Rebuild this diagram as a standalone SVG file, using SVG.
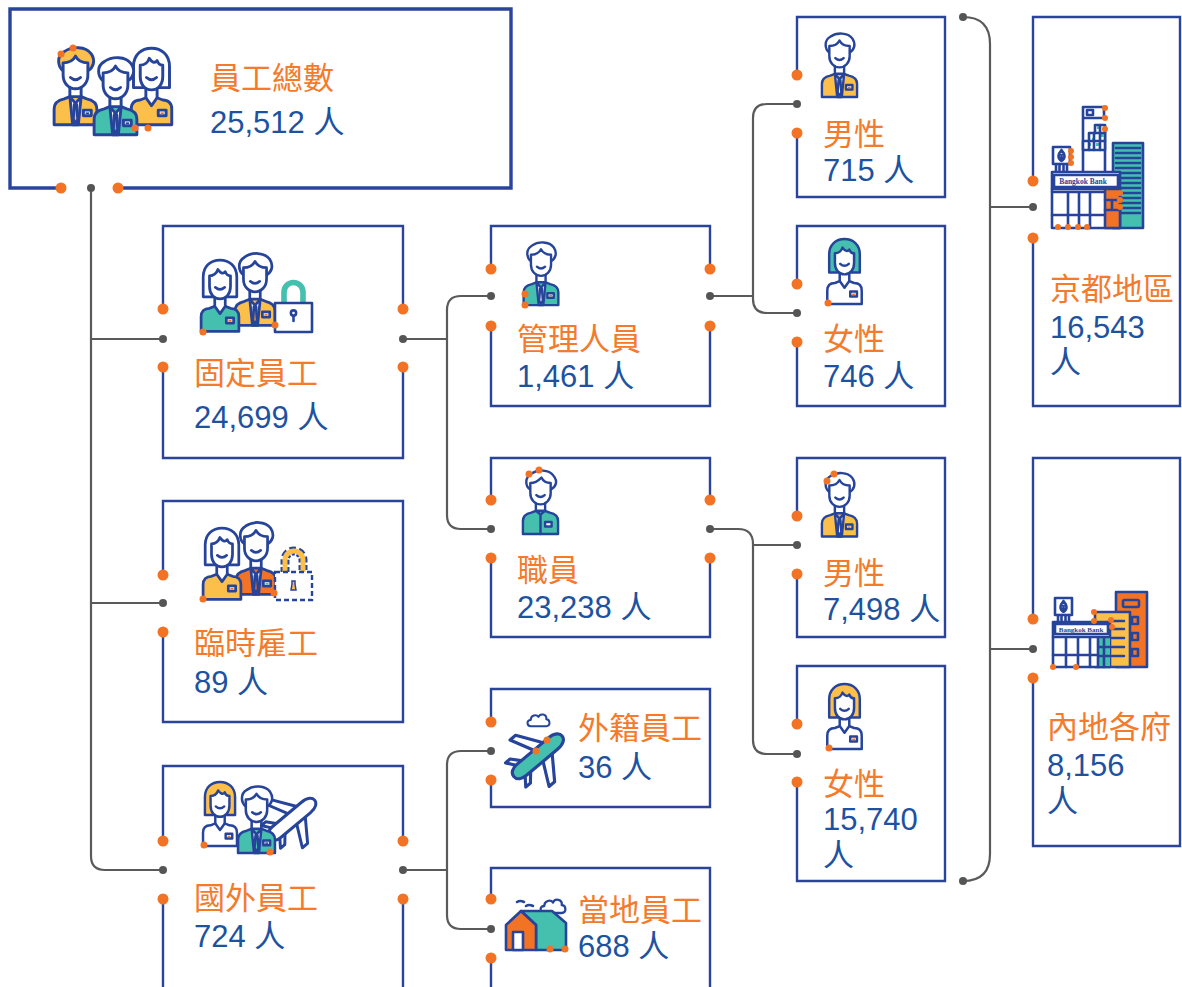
<svg xmlns="http://www.w3.org/2000/svg" width="1182" height="987" viewBox="0 0 1182 987">
<style>
 .box{fill:none;stroke:#2a449c;stroke-width:2.4}
 .headbox{fill:none;stroke:#2a449c;stroke-width:3.4}
 .con{fill:none;stroke:#5a5a5a;stroke-width:2.2;stroke-linecap:round}
 .gd{fill:#555}
 .od{fill:#f37324}
 .t1{font-family:"Liberation Sans","Noto Sans CJK TC",sans-serif;font-size:31px;fill:#f47a2c}
 .t2{font-family:"Liberation Sans","Noto Sans CJK TC",sans-serif;font-size:31px;fill:#1d52a1}
 .bb{font-family:"Liberation Serif",serif;font-weight:bold;font-size:7.5px;fill:#27449b}
 .s{stroke:#27449b;stroke-width:2.6;stroke-linejoin:round;stroke-linecap:round}
 .ln{fill:none}
 .hair{fill:var(--hair,#fff)}
 .skin{fill:#fff}
 .shirt{fill:var(--shirt,#fff)}
 .tie{fill:var(--tie,#fff)}
 .badge{fill:#fff}
 .mark{fill:var(--mark,#f37324)}
 .teal{fill:#45bfae}
 .yel{fill:#fcbf4a}
 .org{fill:#f37324}
 .wht{fill:#fff}
</style>
<defs>
 <symbol id="man" viewBox="0 0 40 70" overflow="visible">
  <path class="s hair" d="M9,21 C4,17 3,8 10,4 C17,-1 29,-1 34,6 C38,12 36,18 31,21 Z"/>
  <path class="s skin" d="M9,14 C14,14 18,12 20,8 C22,12 26,14 31,14 V25 C31,32 26,37 20,37 C14,37 9,32 9,25 Z"/>
  <path class="s ln" d="M15.5,27 Q20,31 24.5,27"/>
  <path class="s ln" d="M15,36 V45 M25,36 V45"/>
  <path class="s shirt" d="M1,69 V55 C1,50 5,47 10,46 L15,44 H25 L30,46 C35,47 39,50 39,55 V69 Z"/>
  <path class="s skin" d="M15,44 L17.5,69 H22.5 L25,44 L20,50 Z"/>
  <path class="s tie" d="M19,51 L18,64 L20,68 L22,64 L21,51 Z" stroke-width="2"/>
  <rect class="s badge" x="27" y="56" width="7" height="5" stroke-width="2"/>
  <rect class="mark" x="29" y="58" width="3" height="1.6"/>
 </symbol>
 <symbol id="man2" viewBox="0 0 40 70" overflow="visible">
  <path class="s hair" d="M9,21 C3,17 3,8 10,4 C17,-1 29,-1 34,6 C39,12 37,18 31,21 Z"/>
  <path class="s skin" d="M9,14 C14,14 18,11 21,8 C23,12 27,14 31,14 V25 C31,32 26,37 20,37 C14,37 9,32 9,25 Z"/>
  <path class="s ln" d="M15.5,27 Q20,31 24.5,27"/>
  <path class="s ln" d="M15,36 V45 M25,36 V45"/>
  <path class="s shirt" d="M1,69 V55 C1,50 5,47 10,46 L15,44 H25 L30,46 C35,47 39,50 39,55 V69 Z"/>
  <path class="s ln" d="M15,44 L20,48 L25,44 M20,48 V69"/>
  <rect class="s badge" x="25" y="56" width="7" height="5" stroke-width="2"/>
 </symbol>
 <symbol id="woman" viewBox="0 0 40 70" overflow="visible">
  <path class="s hair" d="M4,36 V17 C4,7 11,1 20,1 C29,1 36,7 36,17 V36 Z"/>
  <path class="s skin" d="M10,16 C14,16 17,13 18,10 C20,13 23,15 25,12 C26,15 28,16 30,16 V26 C30,33 26,38 20,38 C14,38 10,33 10,26 Z"/>
  <path class="s ln" d="M15.5,27 Q20,31 24.5,27"/>
  <path class="s ln" d="M15,37 V45 M25,37 V45"/>
  <path class="s shirt" d="M2,69 V55 C2,50 5,47 10,47 L15,45 L20,52 L25,45 L30,47 C35,47 38,50 38,55 V69 Z"/>
  <rect class="s badge" x="26" y="56" width="7" height="5" stroke-width="2"/>
  <rect class="mark" x="28" y="58" width="3" height="1.6"/>
 </symbol>
 <symbol id="plane" viewBox="-28 -28 56 56" overflow="visible">
  <path class="s skin" d="M2,-5 L-8,-25 L-2,-25 L12,-5 Z M2,5 L-8,25 L-2,25 L12,5 Z M-17,-5 L-23,-13 L-18,-13 L-11,-5 Z M-17,5 L-23,13 L-18,13 L-11,5 Z" stroke-width="2"/>
  <path class="s shirt" d="M-25,0 C-25,-4 -21,-6 -16,-6 L17,-6 C24,-6 27,-3 27,0 C27,3 24,6 17,6 L-16,6 C-21,6 -25,4 -25,0 Z" stroke-width="2"/>
 </symbol>
 <symbol id="cloud" viewBox="0 0 32 18" overflow="visible">
  <path class="s ln" d="M6,17 C1,17 0,9 6,9 C6,3 13,1 16,5 C18,0 27,1 26,8 C31,8 32,17 26,17 Z" stroke-width="2"/>
 </symbol>
 <symbol id="leaf" viewBox="0 0 17 17" overflow="visible">
  <rect class="s wht" x="0" y="0" width="17" height="17" stroke-width="2"/>
  <path class="s ln" d="M8.5,3 C5,7 4,11 8.5,14 C13,11 12,7 8.5,3 Z M8.5,8 V14" stroke-width="1.3"/>
  <path class="s ln" d="M3,17 V24 M6.5,17 V24 M10.5,17 V24 M14,17 V24" stroke-width="1.6"/>
 </symbol>
</defs>

<!-- connectors -->
<g id="connectors">
 <path class="con" d="M91,188 V856 Q91,870 105,870 H163 M91,339 H163 M91,603 H163"/>
 <path class="con" d="M403,339 H447 M491,296 H461 Q447,296 447,310 V515 Q447,529 461,529 H491"/>
 <path class="con" d="M403,870 H447 M491,751 H461 Q447,751 447,765 V915 Q447,929 461,929 H491"/>
 <path class="con" d="M710,296 H753 M797,104 H767 Q753,104 753,118 V299 Q753,313 767,313 H797"/>
 <path class="con" d="M710,529 H738 Q753,529 753,544 V740 Q753,754 767,754 H797 M753,545 H797"/>
 <path class="con" d="M963,17 Q990,17 990,44 V854 Q990,881 963,881 M990,207 H1033 M990,649 H1033"/>
 <g class="gd">
  <circle cx="91" cy="188" r="4"/><circle cx="163" cy="339" r="4"/><circle cx="163" cy="603" r="4"/><circle cx="163" cy="870" r="4"/>
  <circle cx="403" cy="339" r="4"/><circle cx="491" cy="296" r="4"/><circle cx="491" cy="529" r="4"/>
  <circle cx="403" cy="870" r="4"/><circle cx="491" cy="751" r="4"/><circle cx="491" cy="929" r="4"/>
  <circle cx="710" cy="296" r="4"/><circle cx="797" cy="104" r="4"/><circle cx="797" cy="313" r="4"/>
  <circle cx="710" cy="529" r="4"/><circle cx="797" cy="545" r="4"/><circle cx="797" cy="754" r="4"/>
  <circle cx="963" cy="17" r="4"/><circle cx="963" cy="881" r="4"/><circle cx="1033" cy="207" r="4"/><circle cx="1033" cy="649" r="4"/>
 </g>
</g>

<!-- total staff -->
<g id="total">
 <path class="headbox" d="M61,188 H10 V9 H511 V188 H118"/>
 <circle class="od" cx="61" cy="188" r="5.5"/><circle class="od" cx="118" cy="188" r="5.5"/>
 <use href="#man" x="53" y="47" width="45" height="79" style="--hair:#fcbf4a;--shirt:#fcbf4a;--tie:#fcbf4a;--mark:#27449b"/>
 <use href="#woman" x="129" y="47" width="45" height="79" style="--shirt:#fcbf4a"/>
 <use href="#man" x="93" y="57" width="45" height="79" style="--shirt:#45bfae;--tie:#45bfae;--mark:#27449b"/>
 <circle class="od" cx="61" cy="54" r="3.5"/><circle class="od" cx="73" cy="48" r="3.5"/>
 <circle class="od" cx="135" cy="128" r="3.5"/><circle class="od" cx="148" cy="128" r="3.5"/>
 <text class="t1" x="210" y="89">員工總數</text>
 <text class="t2" x="210" y="133">25,512 人</text>
</g>

<!-- permanent staff -->
<g id="permanent">
 <path class="box" d="M163,309 V226 H403 V309 M403,367 V458 H163 V367"/>
 <circle class="od" cx="163" cy="309" r="5.5"/><circle class="od" cx="163" cy="367" r="5.5"/>
 <circle class="od" cx="403" cy="309" r="5.5"/><circle class="od" cx="403" cy="367" r="5.5"/>
 <use href="#man" x="234" y="253" width="42" height="73.5" style="--shirt:#fcbf4a;--tie:#f5a030"/>
 <use href="#woman" x="199" y="259" width="42" height="73.5" style="--shirt:#45bfae"/>
 <path class="s ln" d="M284,304 V292 A9.5,9.5 0 0 1 303,292 V304" stroke-width="10"/>
 <path d="M284,304 V292 A9.5,9.5 0 0 1 303,292 V304" fill="none" stroke="#45bfae" stroke-width="5.6"/>
 <rect class="s wht" x="275" y="303" width="37" height="29"/>
 <path class="s ln" d="M293.5,314 V321" stroke-width="3"/>
 <circle class="s wht" cx="293.5" cy="313" r="2.6" stroke-width="1.8"/>
 <circle class="od" cx="203" cy="332" r="3.5"/><circle class="od" cx="275" cy="325" r="3.5"/>
 <text class="t1" x="194" y="384">固定員工</text>
 <text class="t2" x="194" y="428">24,699 人</text>
</g>

<!-- temporary staff -->
<g id="temporary">
 <path class="box" d="M163,575 V501 H403 V722 H163 V632"/>
 <circle class="od" cx="163" cy="575" r="5.5"/><circle class="od" cx="163" cy="632" r="5.5"/>
 <use href="#man" x="235" y="522" width="42" height="73.5" style="--shirt:#f37324;--tie:#f37324;--mark:#45bfae"/>
 <use href="#woman" x="201" y="527" width="42" height="73.5" style="--shirt:#fcbf4a"/>
 <path d="M285,572 V560 A9,9 0 0 1 303,560 V572" fill="none" stroke="#27449b" stroke-width="9" stroke-dasharray="5 2.5"/>
 <path d="M285,572 V560 A9,9 0 0 1 303,560 V572" fill="none" stroke="#fcbf4a" stroke-width="5"/>
 <rect x="275" y="572" width="37" height="28" fill="#fff" stroke="#27449b" stroke-width="2.4" stroke-dasharray="5 3"/>
 <path d="M292,581 h3 v3 l1,6 h-5 l1,-6 z" fill="#fcbf4a" stroke="#27449b" stroke-width="1.5"/>
 <circle class="od" cx="203" cy="599" r="3.5"/><circle class="od" cx="274" cy="593" r="3.5"/>
 <text class="t1" x="194" y="654">臨時雇工</text>
 <text class="t2" x="194" y="693">89 人</text>
</g>

<!-- overseas staff -->
<g id="overseas">
 <path class="box" d="M163,841 V766 H403 V841 M403,899 V1000 M163,1000 V899"/>
 <circle class="od" cx="163" cy="841" r="5.5"/><circle class="od" cx="163" cy="899" r="5.5"/>
 <circle class="od" cx="403" cy="841" r="5.5"/><circle class="od" cx="403" cy="899" r="5.5"/>
 <use href="#plane" x="259" y="788" width="64" height="64" transform="rotate(-40 291 820)"/>
 <use href="#woman" x="200" y="781" width="40" height="66" style="--hair:#fcbf4a"/>
 <use href="#man" x="237" y="786" width="39" height="68" style="--shirt:#45bfae;--tie:#45bfae;--mark:#27449b"/>
 <circle class="od" cx="204" cy="845" r="3.5"/><circle class="od" cx="270" cy="852" r="3.5"/>
 <text class="t1" x="194" y="909">國外員工</text>
 <text class="t2" x="194" y="947">724 人</text>
</g>

<!-- management -->
<g id="management">
 <path class="box" d="M491,269 V226 H710 V269 M710,326 V406 H491 V326"/>
 <circle class="od" cx="491" cy="269" r="5.5"/><circle class="od" cx="491" cy="326" r="5.5"/>
 <circle class="od" cx="710" cy="269" r="5.5"/><circle class="od" cx="710" cy="326" r="5.5"/>
 <use href="#man" x="522" y="242" width="38" height="64" style="--shirt:#45bfae;--tie:#fff"/>
 <circle class="od" cx="525" cy="294" r="3.5"/><circle class="od" cx="525" cy="305" r="3.5"/>
 <text class="t1" x="517" y="350">管理人員</text>
 <text class="t2" x="517" y="387">1,461 人</text>
</g>

<!-- staff -->
<g id="staff">
 <path class="box" d="M491,500 V458 H710 V500 M710,558 V637 H491 V558"/>
 <circle class="od" cx="491" cy="500" r="5.5"/><circle class="od" cx="491" cy="558" r="5.5"/>
 <circle class="od" cx="710" cy="500" r="5.5"/><circle class="od" cx="710" cy="558" r="5.5"/>
 <use href="#man2" x="522" y="468" width="37" height="69" style="--shirt:#45bfae"/>
 <circle class="od" cx="529" cy="474" r="3.5"/><circle class="od" cx="539" cy="470" r="3.5"/>
 <text class="t1" x="517" y="581">職員</text>
 <text class="t2" x="517" y="618">23,238 人</text>
</g>

<!-- foreign nationals -->
<g id="foreign">
 <path class="box" d="M491,722 V689 H710 V807 H491 V780"/>
 <circle class="od" cx="491" cy="722" r="5.5"/><circle class="od" cx="491" cy="780" r="5.5"/>
 <use href="#cloud" x="526" y="713" width="25" height="14"/>
 <use href="#plane" x="503" y="723" width="68" height="68" transform="rotate(-40 537 757)" style="--shirt:#45bfae"/>
 <circle class="od" cx="536" cy="751" r="3.5"/><circle class="od" cx="547" cy="740" r="3.5"/>
 <text class="t1" x="578" y="739">外籍員工</text>
 <text class="t2" x="578" y="778">36 人</text>
</g>

<!-- local staff -->
<g id="local">
 <path class="box" d="M491,899 V868 H710 V1000 M491,1000 V958"/>
 <circle class="od" cx="491" cy="899" r="5.5"/><circle class="od" cx="491" cy="958" r="5.5"/>
 <path class="s ln" d="M517,902 q3,-2 7,0 M526,906 q3,-2 7,0" stroke-width="1.6"/>
 <use href="#cloud" x="539" y="898" width="28" height="16"/>
 <path class="s teal" d="M521,911 H552 L566,923 V950 H536 V925 Z"/>
 <path class="s org" d="M506,925 L521,911 L536,925 V950 H506 Z"/>
 <rect class="s wht" x="513" y="932" width="10" height="18"/>
 <circle class="od" cx="550" cy="949" r="3.5"/><circle class="od" cx="565" cy="949" r="3.5"/>
 <text class="t1" x="578" y="921">當地員工</text>
 <text class="t2" x="578" y="957">688 人</text>
</g>

<!-- male, management -->
<g id="male-management">
 <path class="box" d="M797,75 V17 H945 V197 H797 V133"/>
 <circle class="od" cx="797" cy="75" r="5.5"/><circle class="od" cx="797" cy="133" r="5.5"/>
 <use href="#man" x="821" y="32" width="37" height="67" style="--shirt:#fcbf4a;--tie:#fff"/>
 <text class="t1" x="823" y="145">男性</text>
 <text class="t2" x="823" y="181">715 人</text>
</g>

<!-- female, management -->
<g id="female-management">
 <path class="box" d="M797,284 V226 H945 V406 H797 V342"/>
 <circle class="od" cx="797" cy="284" r="5.5"/><circle class="od" cx="797" cy="342" r="5.5"/>
 <use href="#woman" x="825" y="238" width="39" height="67" style="--hair:#45bfae"/>
 <circle class="od" cx="828" cy="303" r="3.5"/>
 <text class="t1" x="823" y="350">女性</text>
 <text class="t2" x="823" y="387">746 人</text>
</g>

<!-- male, staff -->
<g id="male-staff">
 <path class="box" d="M797,516 V458 H945 V637 H797 V574"/>
 <circle class="od" cx="797" cy="516" r="5.5"/><circle class="od" cx="797" cy="574" r="5.5"/>
 <use href="#man" x="821" y="470" width="37" height="70" style="--shirt:#fcbf4a;--tie:#fff"/>
 <circle class="od" cx="827" cy="481" r="3.5"/><circle class="od" cx="834" cy="474" r="3.5"/>
 <text class="t1" x="823" y="584">男性</text>
 <text class="t2" x="823" y="620">7,498 人</text>
</g>

<!-- female, staff -->
<g id="female-staff">
 <path class="box" d="M797,724 V666 H945 V881 H797 V782"/>
 <circle class="od" cx="797" cy="724" r="5.5"/><circle class="od" cx="797" cy="782" r="5.5"/>
 <use href="#woman" x="825" y="683" width="39" height="67" style="--hair:#fcbf4a"/>
 <circle class="od" cx="829" cy="748" r="3.5"/>
 <text class="t1" x="823" y="795">女性</text>
 <text class="t2" x="823" y="830">15,740</text>
 <text class="t2" x="823" y="866">人</text>
</g>

<!-- Bangkok metropolitan -->
<g id="metropolitan">
 <path class="box" d="M1033,181 V17 H1180 V406 H1033 V238"/>
 <circle class="od" cx="1033" cy="181" r="5.5"/><circle class="od" cx="1033" cy="238" r="5.5"/>
 <rect class="s teal" x="1113" y="143" width="30" height="85" stroke-width="2.2"/>
 <path class="s ln" d="M1116,148 H1140 M1116,153 H1140 M1116,158 H1140 M1116,163 H1140 M1116,168 H1140 M1116,173 H1140 M1116,178 H1140 M1116,183 H1140 M1116,188 H1140 M1116,193 H1140 M1116,198 H1140 M1116,203 H1140 M1116,208 H1140 M1116,213 H1140" stroke-width="1.6"/>
 <path class="s ln" d="M1083,175 V107 H1104 V118 H1083 M1105,126 V175" stroke-width="2.2"/>
 <rect class="s wht" x="1087" y="110" width="6" height="5" stroke-width="1.4"/>
 <path class="s wht" d="M1095,125 H1105 V150 H1083 V141 H1089 V133 H1095 Z" stroke-width="1.6"/>
 <path d="M1097,126 h3 v3 h-3 z M1101,134 h3 v3 h-3 z M1092,138 h3 v3 h-3 z M1088,143 h3 v3 h-3 z M1096,143 h3 v3 h-3 z" class="teal"/>
 <path class="s ln" d="M1095,133 H1105 M1089,141 H1105 M1100,125 V150 M1094,133 V150 M1089,141 V150" stroke-width="1.3"/>
 <use href="#leaf" x="1053" y="147" width="17" height="17"/>
 <rect class="s wht" x="1052" y="172" width="68" height="56" stroke-width="2.2"/>
 <rect class="s wht" x="1054" y="175" width="64" height="12" stroke-width="1.2"/>
 <text class="bb" x="1083" y="184" text-anchor="middle">Bangkok Bank</text>
 <path class="s ln" d="M1052,189 H1105 M1052,192 H1105 M1068,192 V228 M1079,192 V228 M1090,192 V228 M1052,215 H1105" stroke-width="1.6"/>
 <rect class="s org" x="1105" y="189" width="15" height="39" stroke-width="1.6"/>
 <path class="s ln" d="M1105,200 H1120 M1105,210 H1120 M1112,200 V210" stroke-width="1.4"/>
 <circle class="od" cx="1105" cy="108" r="3"/><circle class="od" cx="1105" cy="118" r="3"/><circle class="od" cx="1105" cy="129" r="3"/>
 <circle class="od" cx="1071" cy="151" r="3"/><circle class="od" cx="1071" cy="157" r="3"/><circle class="od" cx="1071" cy="163" r="3"/>
 <circle class="od" cx="1120" cy="193" r="3"/><circle class="od" cx="1120" cy="200" r="3"/><circle class="od" cx="1120" cy="207" r="3"/>
 <circle class="od" cx="1058" cy="227" r="3"/><circle class="od" cx="1068" cy="227" r="3"/><circle class="od" cx="1078" cy="227" r="3"/><circle class="od" cx="1087" cy="227" r="3"/>
 <text class="t1" x="1050" y="300">京都地區</text>
 <text class="t2" x="1050" y="338">16,543</text>
 <text class="t2" x="1050" y="373">人</text>
</g>

<!-- provinces -->
<g id="provinces">
 <path class="box" d="M1033,619 V458 H1180 V846 H1033 V678"/>
 <circle class="od" cx="1033" cy="619" r="5.5"/><circle class="od" cx="1033" cy="678" r="5.5"/>
 <rect class="s org" x="1116" y="592" width="31" height="75" stroke-width="2.2"/>
 <rect class="s org" x="1123" y="600" width="16" height="7" rx="1.5" stroke-width="1.6"/>
 <path class="s ln" d="M1132,617 h6 v7 h-6 z M1132,633 h6 v7 h-6 z M1132,649 h6 v7 h-6 z" stroke-width="1.6"/>
 <rect class="s yel" x="1095" y="612" width="35" height="55" stroke-width="2.2"/>
 <path class="s ln" d="M1112,621 H1124 M1112,629 H1124 M1112,638 H1124 M1112,647 H1124 M1112,656 H1124" stroke-width="1.6"/>
 <use href="#leaf" x="1055" y="598" width="17" height="17"/>
 <rect class="s wht" x="1053" y="622" width="57" height="45" stroke-width="2.2"/>
 <rect class="s wht" x="1055" y="624" width="53" height="10" stroke-width="1.2"/>
 <text class="bb" x="1081" y="631.5" text-anchor="middle" style="font-size:7px">Bangkok Bank</text>
 <rect class="teal" x="1098" y="636" width="12" height="30"/>
 <path class="s ln" d="M1053,637 H1110 M1066,637 V667 M1078,637 V667 M1090,637 V667 M1053,655 H1098 M1098,637 V667 M1098,647 H1110 M1098,656 H1110 M1104,637 V667" stroke-width="1.6"/>
 <circle class="od" cx="1094" cy="612" r="3"/><circle class="od" cx="1094" cy="621" r="3"/>
 <circle class="od" cx="1111" cy="620" r="3"/><circle class="od" cx="1112" cy="627" r="3"/>
 <circle class="od" cx="1053" cy="667" r="3"/><circle class="od" cx="1076" cy="667" r="3"/>
 <text class="t1" x="1047" y="738">內地各府</text>
 <text class="t2" x="1047" y="776">8,156</text>
 <text class="t2" x="1047" y="812">人</text>
</g>
</svg>
